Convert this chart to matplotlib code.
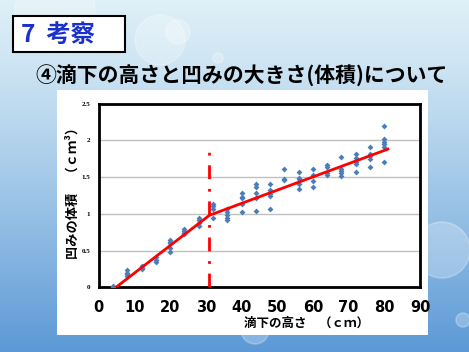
import matplotlib
matplotlib.use('Agg')
import matplotlib.pyplot as plt
import numpy as np
from matplotlib.patches import Rectangle, Circle

plt.rcParams['font.family'] = ['Noto Sans CJK JP', 'DejaVu Sans']

# --- данные: высота падения (см) и объём вмятины (см3) ---
heights = [4, 8, 12, 16, 20, 24, 28, 32, 36, 40,
           44, 48, 52, 56, 60, 64, 68, 72, 76, 80]
volumes = [
    [0.02, 0.01],
    [0.15, 0.18, 0.2, 0.23],
    [0.25, 0.27, 0.29],
    [0.34, 0.37, 0.41],
    [0.48, 0.54, 0.6, 0.62, 0.64],
    [0.72, 0.74, 0.76, 0.79],
    [0.84, 0.87, 0.92, 0.95],
    [0.95, 1.07, 1.1, 1.13],
    [0.91, 0.95, 0.98, 1.02, 1.07],
    [1.03, 1.14, 1.21, 1.23, 1.29],
    [1.04, 1.21, 1.29, 1.36, 1.41],
    [1.06, 1.24, 1.27, 1.33, 1.41],
    [1.46, 1.48, 1.61],
    [1.34, 1.41, 1.47, 1.49, 1.57],
    [1.36, 1.45, 1.53, 1.61],
    [1.53, 1.55, 1.63, 1.67],
    [1.52, 1.55, 1.58, 1.61, 1.77],
    [1.57, 1.68, 1.71, 1.76, 1.82],
    [1.63, 1.75, 1.78, 1.82, 1.91],
    [1.71, 1.91, 1.95, 1.98, 2.02, 2.2],
]
fit_x = [4.8, 31, 81]
fit_y = [0.0, 0.98, 1.88]
break_x = 31
break_top = 1.9

xs = [h for h, vs in zip(heights, volumes) for v in vs]
ys = [v for vs in volumes for v in vs]

W, H = 469, 352
fig = plt.figure(figsize=(W / 100, H / 100), dpi=100)

# фон слайда (градиент)
bg = fig.add_axes([0, 0, 1, 1])
bg.set_axis_off()
t = np.linspace(0, 1, 256)[:, None]
top = np.array([0.87, 0.94, 0.97])
bot = np.array([0.36, 0.60, 0.84])
grad = top + (bot - top) * t[:, :, None] ** 1.2
grad = np.repeat(grad, 4, axis=1)
bg.imshow(grad, aspect='auto', extent=[0, W, H, 0])
bg.set_xlim(0, W)
bg.set_ylim(H, 0)
for cx, cy, r in [(55, 10, 40), (160, 40, 25), (178, 32, 12), (218, 58, 5),
                  (442, 250, 28), (255, 330, 14), (463, 320, 7)]:
    bg.add_patch(Circle((cx, cy), r, facecolor='white', alpha=0.25,
                        edgecolor='white', lw=1.2))

# заголовок
bg.add_patch(Rectangle((13, 16), 112, 36, facecolor='white', edgecolor='black', lw=1.5))
bg.text(21, 35, '7  考察', color='#1a30cc', fontsize=17.5, fontweight='bold', va='center')
bg.text(35, 76, '④滴下の高さと凹みの大きさ(体積)について', color='black',
        fontsize=15, fontweight='bold', va='center')

# белая панель диаграммы
bg.add_patch(Rectangle((57, 90), 371, 245, facecolor='white', edgecolor='none'))

ax = fig.add_axes([98.7 / W, 1 - 287.4 / H, (420 - 98.7) / W, (287.4 - 103.5) / H])
ax.scatter(xs, ys, marker='D', s=9, color='#4a7ebb', zorder=3, linewidths=0)
ax.plot(fit_x, fit_y, color='#ff0000', lw=2, zorder=4)
ax.plot([break_x, break_x], [0, break_top], color='#ff0000', lw=2,
        dashes=[5, 3.5, 1, 3.5], zorder=4)

ax.set_xlim(0, 90)
ax.set_ylim(0, 2.5)
ax.set_xticks(range(0, 91, 10))
ax.set_yticks([0, 0.5, 1, 1.5, 2, 2.5])
ax.set_yticklabels(['0', '0.5', '1', '1.5', '2', '2.5'])
ax.grid(axis='y', color='#c0c0c0', lw=1)
ax.set_axisbelow(True)
for s in ax.spines.values():
    s.set_linewidth(2)
ax.tick_params(length=0)
ax.tick_params(axis='x', labelsize=10.5, pad=9)
ax.tick_params(axis='y', labelsize=5, pad=6)
for lab in ax.get_xticklabels():
    lab.set_fontweight('bold')
    lab.set_family('DejaVu Sans')
for lab in ax.get_yticklabels():
    lab.set_fontweight('bold')
    lab.set_family('Liberation Serif')

bg.text(307, 323, '滴下の高さ　（ｃｍ）', fontsize=9, fontweight='bold',
        ha='center', va='center')
bg.text(73, 190, '凹みの体積　（ｃｍ³）', fontsize=9.5, fontweight='bold',
        ha='center', va='center', rotation=90)

fig.savefig('out.png', dpi=100)
